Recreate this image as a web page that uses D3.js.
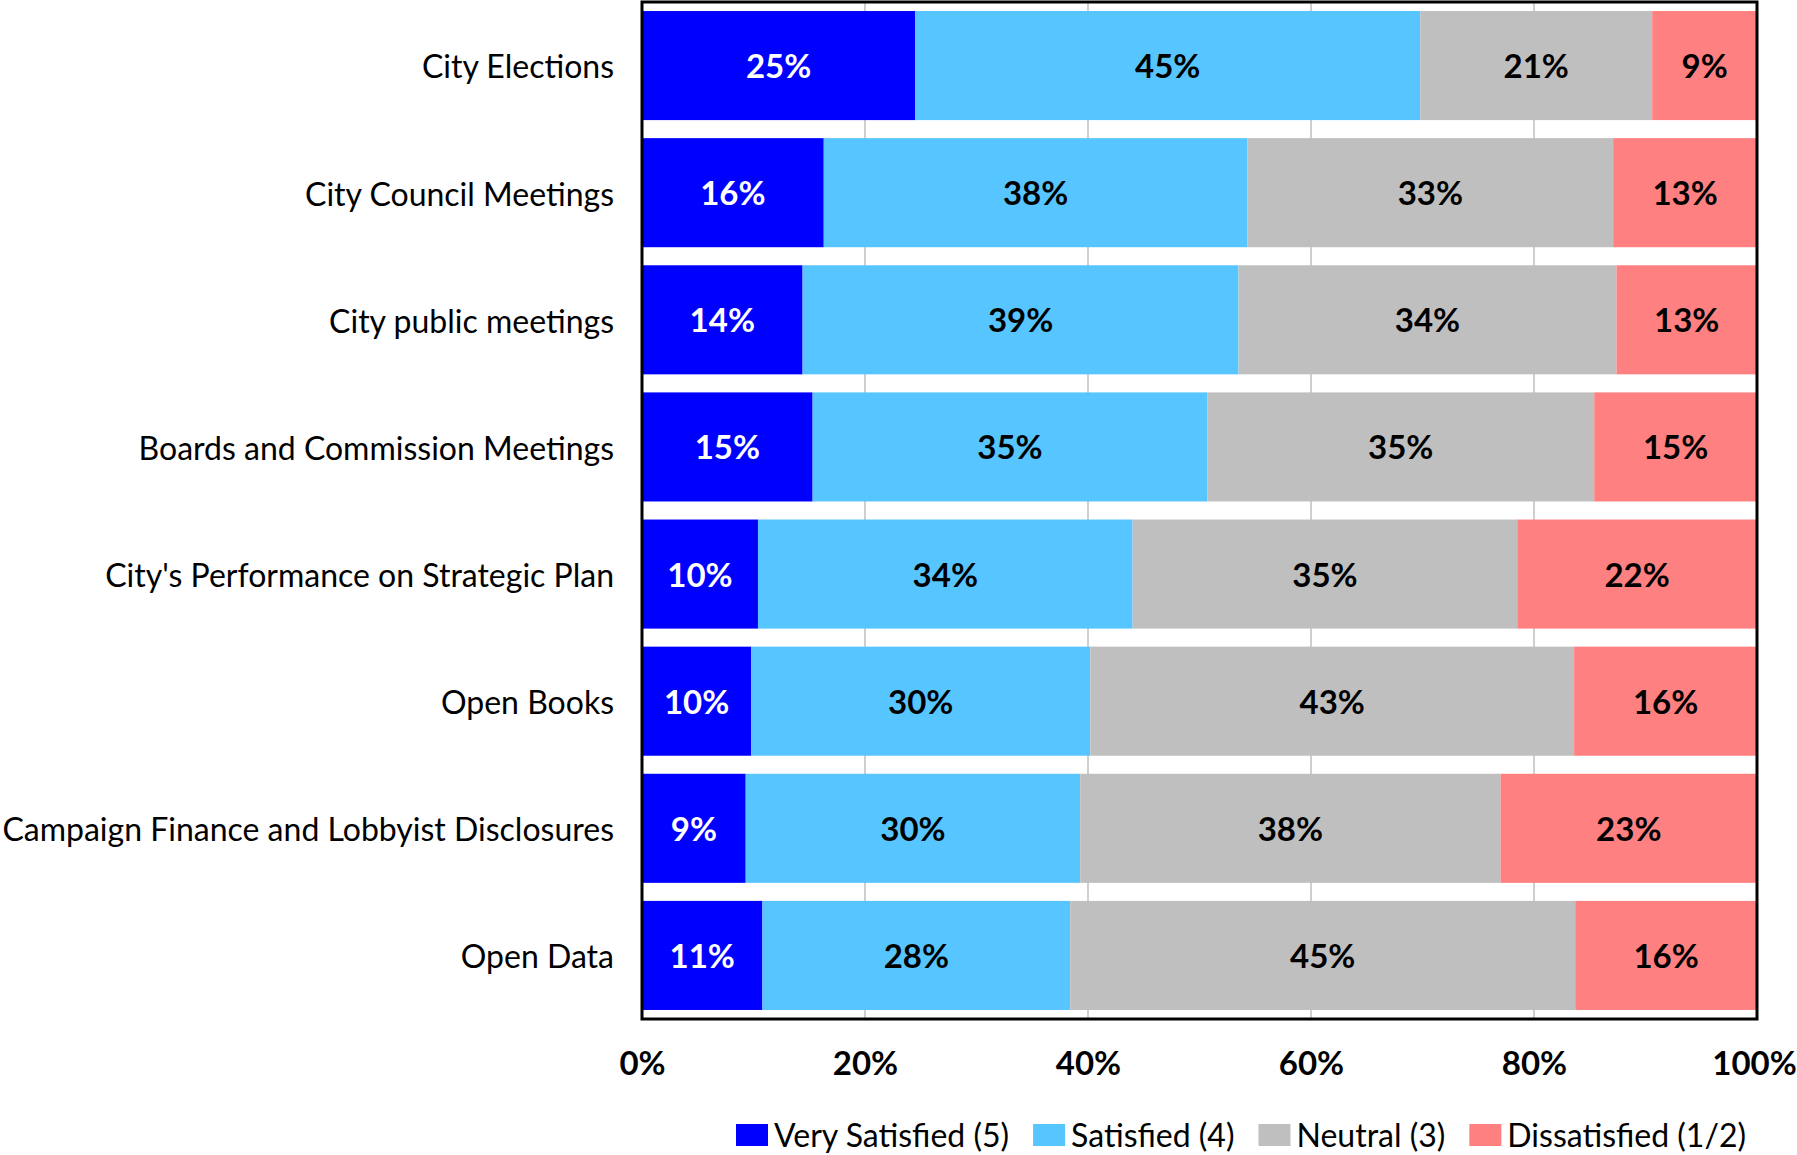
<!DOCTYPE html>
<html>
<head>
<meta charset="utf-8">
<script src="https://cdn.jsdelivr.net/npm/d3@7"></script>
<style>
  body { margin: 0; background: #fff; }
  text { font-family: Lato, "Open Sans", sans-serif; }
</style>
</head>
<body>
<div id="chart"></div>
<script>
// categories, top to bottom
const categories = [
    "City Elections",
    "City Council Meetings",
    "City public meetings",
    "Boards and Commission Meetings",
    "City's Performance on Strategic Plan",
    "Open Books",
    "Campaign Finance and Lobbyist Disclosures",
    "Open Data"
];

// series values in percent
const verySatisfied = [24.5, 16.3, 14.4, 15.3, 10.4, 9.8, 9.3, 10.8];
const satisfied     = [45.3, 38.0, 39.1, 35.4, 33.6, 30.4, 30.0, 27.6];
const neutral       = [20.8, 32.8, 33.9, 34.7, 34.5, 43.4, 37.7, 45.3];
const dissatisfied  = [ 9.4, 12.9, 12.6, 14.6, 21.5, 16.4, 23.0, 16.3];

const seriesNames = ["Very Satisfied (5)", "Satisfied (4)", "Neutral (3)", "Dissatisfied (1/2)"];
const seriesColors = ["#0000FF", "#57C5FF", "#BFBFBF", "#FF8080"];
const labelColors = ["#ffffff", "#000000", "#000000", "#000000"];
const xTicks = [0, 20, 40, 60, 80, 100];

const W = 1797, H = 1155;
const margin = {top: 2, right: 40, bottom: 136, left: 642};
const width = W - margin.left - margin.right;
const height = H - margin.top - margin.bottom;

const svg = d3.select("#chart")
  .append("svg")
    .attr("width", W)
    .attr("height", H);

const g = svg.append("g")
    .attr("transform", "translate(" + margin.left + "," + margin.top + ")");

// build a row table for the stack
const rows = categories.map((c, i) => ({
    cat: c,
    s0: verySatisfied[i],
    s1: satisfied[i],
    s2: neutral[i],
    s3: dissatisfied[i]
}));
const keys = ["s0", "s1", "s2", "s3"];
const stacked = d3.stack().keys(keys)(rows);

const x = d3.scaleLinear().domain([0, 100]).range([0, width]);
const y = d3.scaleBand()
    .domain(categories)
    .range([0, height])
    .paddingInner(0.142)
    .paddingOuter(0.071);

// gridlines (only show in gaps between bars)
g.append("g")
  .selectAll("line")
  .data(xTicks.slice(1, -1))
  .enter()
  .append("line")
    .attr("x1", d => x(d))
    .attr("x2", d => x(d))
    .attr("y1", 0)
    .attr("y2", height)
    .style("stroke", "#BFBFBF")
    .style("stroke-width", 1.5);

// bars
const layer = g.selectAll(".layer")
  .data(stacked)
  .enter()
  .append("g")
    .attr("class", "layer")
    .style("fill", (d, i) => seriesColors[i]);

layer.selectAll("rect")
  .data(d => d)
  .enter()
  .append("rect")
    .attr("x", d => x(d[0]))
    .attr("y", d => y(d.data.cat))
    .attr("width", d => x(d[1]) - x(d[0]))
    .attr("height", y.bandwidth());

// value labels
layer.selectAll("text")
  .data(d => d)
  .enter()
  .append("text")
    .attr("x", d => (x(d[0]) + x(d[1])) / 2)
    .attr("y", d => y(d.data.cat) + y.bandwidth() / 2)
    .attr("dy", "0.38em")
    .attr("text-anchor", "middle")
    .style("font-size", "33px")
    .style("font-weight", "bold")
    .style("fill", function() { return labelColors[stacked.indexOf(d3.select(this.parentNode).datum())]; })
    .text(d => Math.round(d[1] - d[0]) + "%");

// plot border
g.append("rect")
    .attr("x", 0)
    .attr("y", 0)
    .attr("width", width)
    .attr("height", height)
    .style("fill", "none")
    .style("stroke", "#000")
    .style("stroke-width", 3);

// y axis (category names)
const yAxis = g.append("g")
    .call(d3.axisLeft(y).tickSize(0).tickPadding(28));
yAxis.select(".domain").remove();
yAxis.selectAll("text")
    .attr("dy", "0.4em")
    .style("font-size", "32px")
    .style("font-family", "Lato, sans-serif")
    .style("fill", "#000");

// x axis
const xAxis = g.append("g")
    .attr("transform", "translate(0," + height + ")")
    .call(d3.axisBottom(x).tickValues(xTicks).tickSize(0).tickPadding(33).tickFormat(d => d + "%"));
xAxis.select(".domain").remove();
xAxis.selectAll("text")
    .style("font-size", "33px")
    .style("font-weight", "bold")
    .style("font-family", "Lato, sans-serif")
    .style("fill", "#000");
// keep the last label inside the page
xAxis.selectAll("text").filter(d => d === 100).attr("dx", -3);

// legend
const legend = svg.append("g")
    .attr("transform", "translate(736,1124)");
let lx = 0;
seriesNames.forEach((name, i) => {
    legend.append("rect")
        .attr("x", lx)
        .attr("y", 0)
        .attr("width", 32)
        .attr("height", 22)
        .style("fill", seriesColors[i]);
    const t = legend.append("text")
        .attr("x", lx + 38)
        .attr("y", 11)
        .attr("dy", "0.37em")
        .style("font-size", "32px")
        .style("fill", "#000")
        .text(name);
    lx += 38 + t.node().getComputedTextLength() + 24;
});
</script>
</body>
</html>
